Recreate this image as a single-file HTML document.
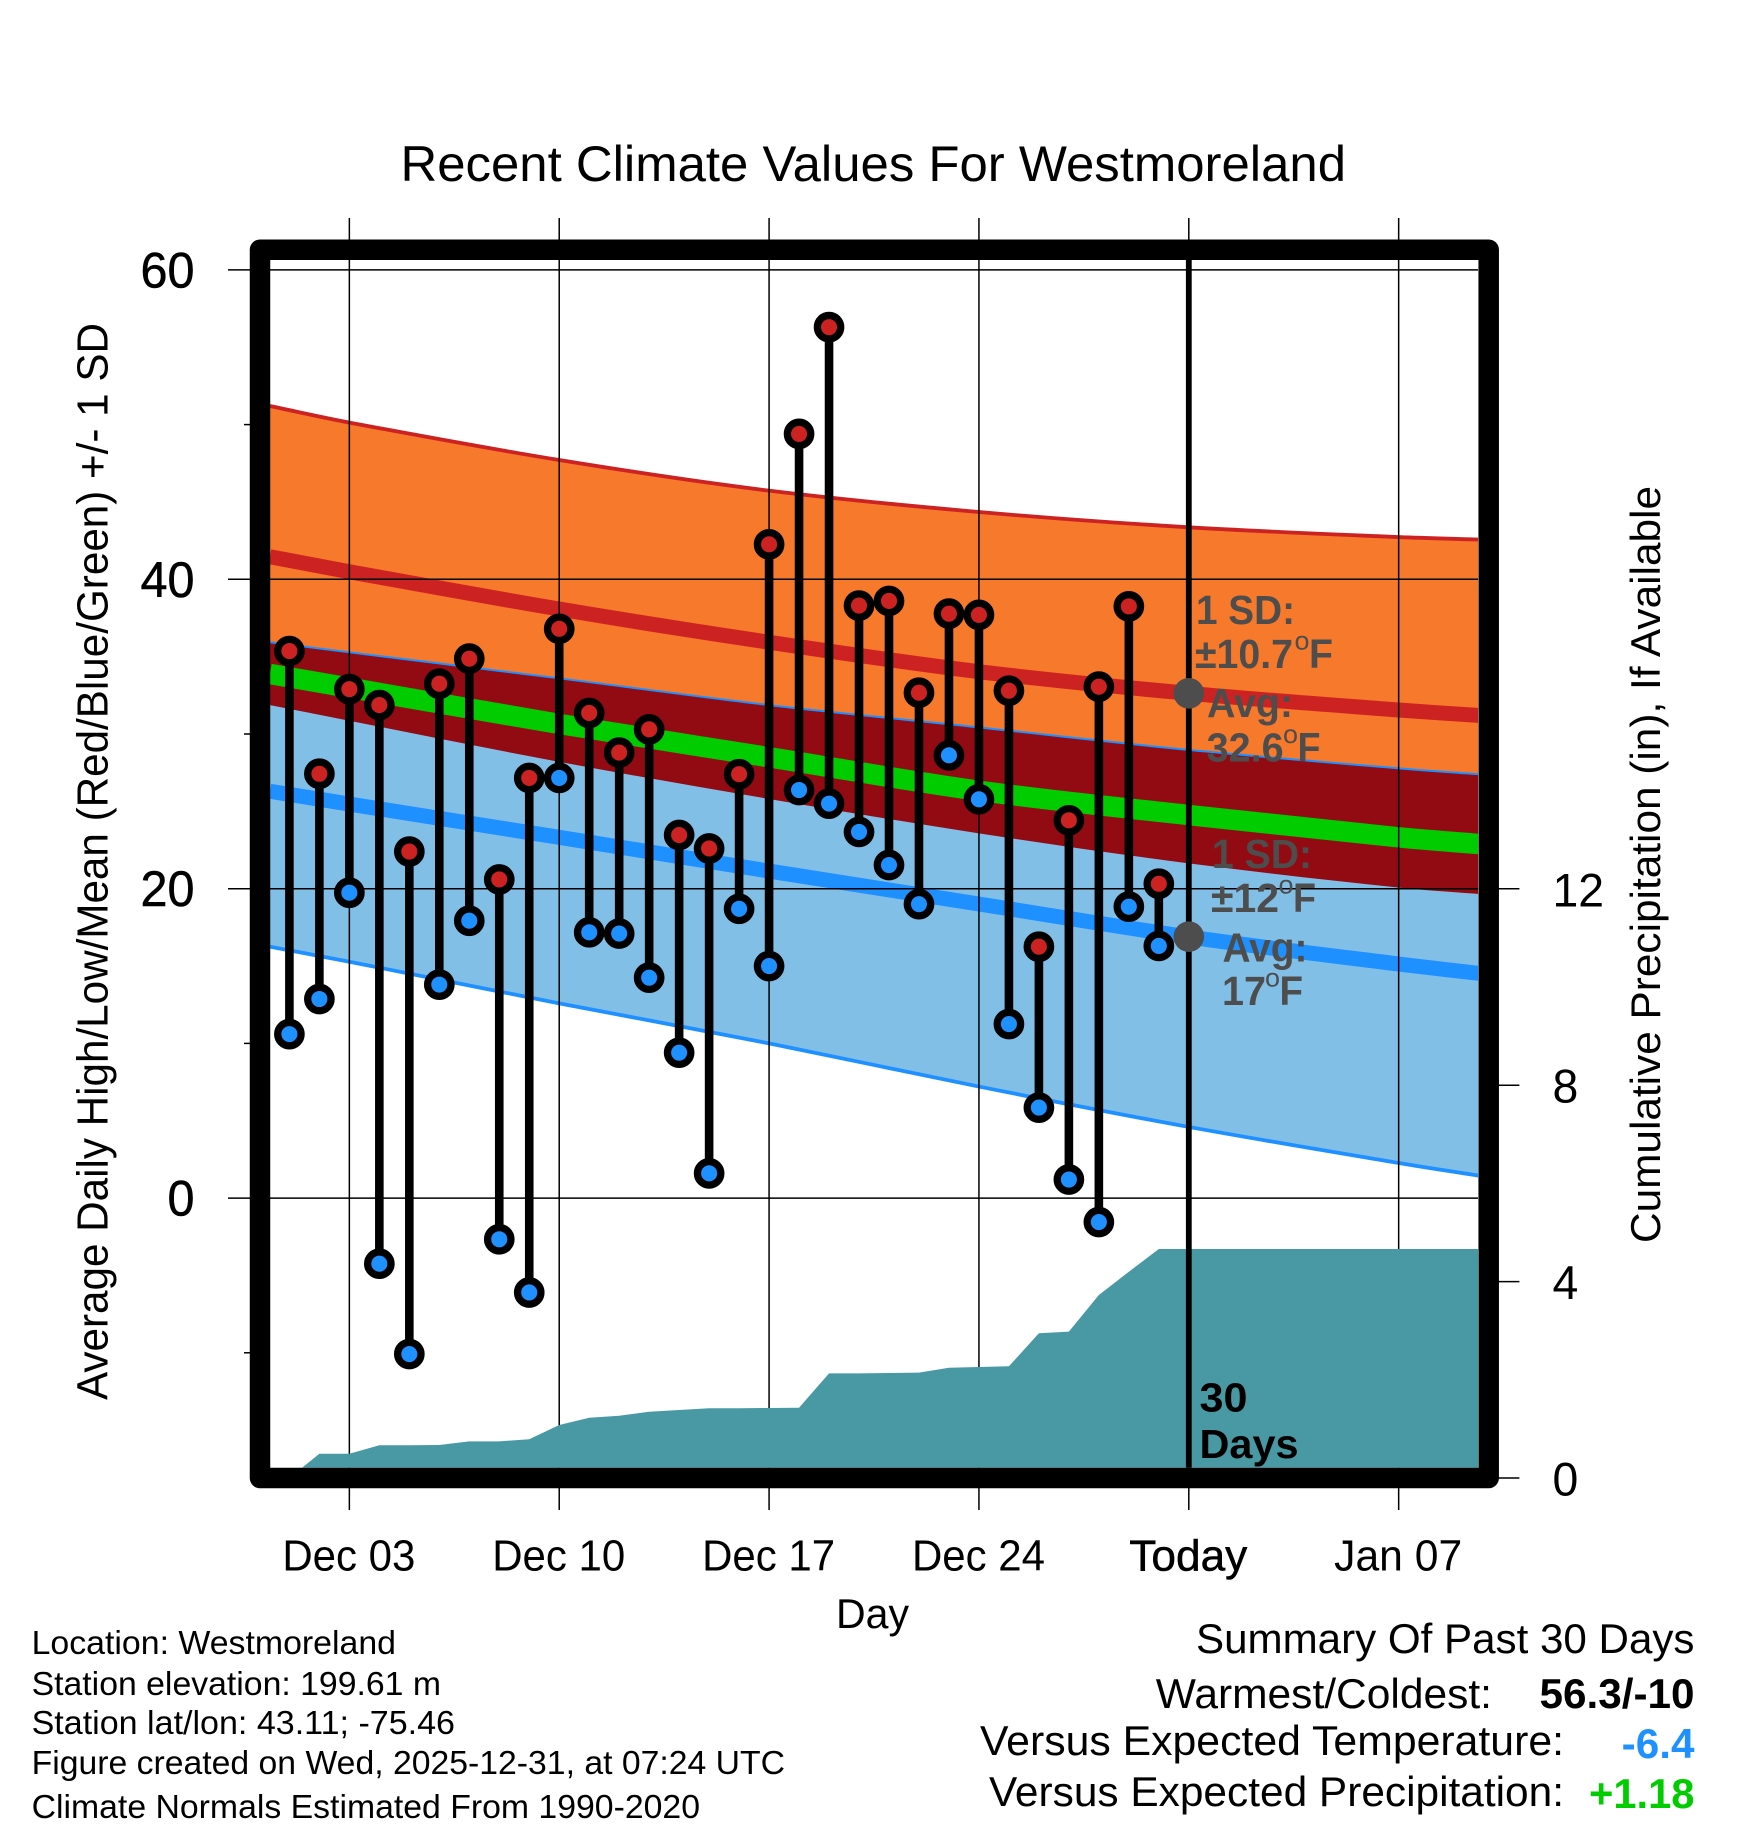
<!DOCTYPE html>
<html>
<head>
<meta charset="utf-8">
<title>Recent Climate Values For Westmoreland</title>
<style>
html,body{margin:0;padding:0;background:#fff;}
svg{display:block;}
text{font-family:"Liberation Sans",Arial,sans-serif;fill:#000;}
.gray{fill:#4d4d4d;font-weight:bold;font-size:41px;}
.note{font-size:33px;}
.sum{font-size:42px;}
.bold{font-weight:bold;}
</style>
</head>
<body>
<svg id="chart" xmlns="http://www.w3.org/2000/svg" width="1748" height="1828" viewBox="0 0 1748 1828">
<defs>
<clipPath id="plot-clip"><rect x="270" y="260" width="1208" height="1207.7"/></clipPath>
</defs>
<rect x="0" y="0" width="1748" height="1828" fill="#fff"/>
<g id="plot" clip-path="url(#plot-clip)"></g>
<g id="axes"></g>
<rect x="260" y="249.7" width="1228.7" height="1228.3" fill="none" stroke="#000" stroke-width="20.5" stroke-linejoin="round"/>

<text x="400.5" y="181" font-size="50" textLength="945.5" lengthAdjust="spacingAndGlyphs">Recent Climate Values For Westmoreland</text>
<text transform="rotate(-90 107.5 1400)" x="107.5" y="1400" font-size="44" textLength="1077" lengthAdjust="spacingAndGlyphs">Average Daily High/Low/Mean (Red/Blue/Green) +/- 1 SD</text>
<text transform="rotate(-90 1660 1243)" x="1660" y="1243" font-size="42" textLength="757" lengthAdjust="spacingAndGlyphs">Cumulative Precipitation (in), If Available</text>
<text x="836" y="1628" font-size="42" textLength="73" lengthAdjust="spacingAndGlyphs">Day</text>

<g>
<text class="gray" x="1196" y="624" textLength="99" lengthAdjust="spacingAndGlyphs">1 SD:</text>
<text class="gray" x="1195" y="668" textLength="98" lengthAdjust="spacingAndGlyphs">±10.7</text>
<text class="gray" x="1294.5" y="649.5" style="font-size:26px;font-weight:normal" textLength="15" lengthAdjust="spacingAndGlyphs">o</text>
<text class="gray" x="1309" y="668" textLength="24" lengthAdjust="spacingAndGlyphs">F</text>
<text class="gray" x="1207" y="717" textLength="86" lengthAdjust="spacingAndGlyphs">Avg:</text>
<text class="gray" x="1206.6" y="761.5" textLength="77" lengthAdjust="spacingAndGlyphs">32.6</text>
<text class="gray" x="1283" y="743" style="font-size:26px;font-weight:normal" textLength="15" lengthAdjust="spacingAndGlyphs">o</text>
<text class="gray" x="1297.5" y="761.5" textLength="23" lengthAdjust="spacingAndGlyphs">F</text>
</g>
<g>
<text class="gray" x="1212" y="868" textLength="100" lengthAdjust="spacingAndGlyphs">1 SD:</text>
<text class="gray" x="1211" y="912" textLength="68" lengthAdjust="spacingAndGlyphs">±12</text>
<text class="gray" x="1278.5" y="893.5" style="font-size:26px;font-weight:normal" textLength="15" lengthAdjust="spacingAndGlyphs">o</text>
<text class="gray" x="1293" y="912" textLength="23" lengthAdjust="spacingAndGlyphs">F</text>
<text class="gray" x="1222.5" y="961.5" textLength="85" lengthAdjust="spacingAndGlyphs">Avg:</text>
<text class="gray" x="1222" y="1005" textLength="44" lengthAdjust="spacingAndGlyphs">17</text>
<text class="gray" x="1265" y="986.5" style="font-size:26px;font-weight:normal" textLength="15" lengthAdjust="spacingAndGlyphs">o</text>
<text class="gray" x="1279.5" y="1005" textLength="23.5" lengthAdjust="spacingAndGlyphs">F</text>
</g>
<text class="bold" x="1199.5" y="1411.5" font-size="41" textLength="48" lengthAdjust="spacingAndGlyphs">30</text>
<text class="bold" x="1199.5" y="1458" font-size="41" textLength="99" lengthAdjust="spacingAndGlyphs">Days</text>

<g>
<text class="note" x="31.6" y="1654" textLength="364.4" lengthAdjust="spacingAndGlyphs">Location: Westmoreland</text>
<text class="note" x="31.6" y="1695" textLength="409.4" lengthAdjust="spacingAndGlyphs">Station elevation: 199.61 m</text>
<text class="note" x="31.6" y="1734" textLength="423.4" lengthAdjust="spacingAndGlyphs">Station lat/lon: 43.11; -75.46</text>
<text class="note" x="31.6" y="1774" textLength="753.4" lengthAdjust="spacingAndGlyphs">Figure created on Wed, 2025-12-31, at 07:24 UTC</text>
<text class="note" x="31.6" y="1818" textLength="668.4" lengthAdjust="spacingAndGlyphs">Climate Normals Estimated From 1990-2020</text>
</g>
<g>
<text class="sum" x="1196" y="1653" textLength="498.5" lengthAdjust="spacingAndGlyphs">Summary Of Past 30 Days</text>
<text class="sum" x="1155.8" y="1708" textLength="336.2" lengthAdjust="spacingAndGlyphs">Warmest/Coldest:</text>
<text class="sum bold" x="1539.5" y="1708" textLength="155" lengthAdjust="spacingAndGlyphs">56.3/-10</text>
<text class="sum" x="980" y="1755" textLength="584" lengthAdjust="spacingAndGlyphs">Versus Expected Temperature:</text>
<text class="sum bold" x="1621.7" y="1758" textLength="72.8" lengthAdjust="spacingAndGlyphs" style="fill:#1e90ff">-6.4</text>
<text class="sum" x="989" y="1806" textLength="575" lengthAdjust="spacingAndGlyphs">Versus Expected Precipitation:</text>
<text class="sum bold" x="1589" y="1808" textLength="105.5" lengthAdjust="spacingAndGlyphs" style="fill:#00cc00">+1.18</text>
</g>
</svg>
<script>
// ---- data ----
const dayLabels = ["Dec 01","Dec 02","Dec 03","Dec 04","Dec 05","Dec 06","Dec 07","Dec 08","Dec 09","Dec 10","Dec 11","Dec 12","Dec 13","Dec 14","Dec 15","Dec 16","Dec 17","Dec 18","Dec 19","Dec 20","Dec 21","Dec 22","Dec 23","Dec 24","Dec 25","Dec 26","Dec 27","Dec 28","Dec 29","Dec 30"];
const dailyHigh = [35.36,27.43,32.9,31.87,22.4,33.25,34.87,20.6,27.16,36.8,31.36,28.8,30.3,23.47,22.6,27.4,42.26,49.4,56.3,38.3,38.6,32.67,37.78,37.7,32.8,16.25,24.42,33.06,38.25,20.32];
const dailyLow = [10.6,12.87,19.74,-4.24,-10.08,13.8,17.93,-2.66,-6.1,27.16,17.18,17.1,14.25,9.4,1.6,18.7,15,26.38,25.5,23.67,21.53,19,28.62,25.78,11.25,5.85,1.2,-1.55,18.84,16.3];
const cumulativePrecip = [0,0.495,0.495,0.666,0.666,0.672,0.747,0.747,0.788,1.079,1.228,1.269,1.35,1.385,1.42,1.42,1.426,1.432,2.132,2.132,2.138,2.145,2.246,2.26,2.275,2.947,2.98,3.727,4.2,4.664];
const precipHoldValue = 4.664;

const normalDays = [-0.65,2,9,16,23,30,37,39.67];
const highPlusSd = [51.2,50.13,47.71,45.73,44.35,43.36,42.73,42.57];
const highMean = [41.46,40.49,38.08,35.93,34.03,32.63,31.55,31.2];
const highMinusSd = [31.87,30.86,28.2,25.8,23.58,21.64,20.07,19.66];
const lowPlusSd = [35.93,35.28,33.6,31.87,30.43,28.97,27.78,27.4];
const overallMean = [33.88,32.99,30.65,28.5,26.33,24.76,23.32,22.89];
const lowMean = [26.3,25.47,23.32,21.14,19.01,16.88,15.13,14.53];
const lowMinusSd = [16.25,15.28,12.59,10,7.21,4.6,2.27,1.45];

const yTicks = [60,40,20,0];
const yMinorTicks = [50,30,10,-10];
const xTickDays = [2,9,16,23,30,37];
const xTickLabels = ["Dec 03","Dec 10","Dec 17","Dec 24","Today","Jan 07"];
const precipTicks = [0,4,8,12];
const todayDay = 30;
const todayHigh = 32.63;
const todayLow = 16.9;
const lastDay = 39.67;

// ---- axis functions ----
function xScale(d){ return 289.4 + 29.98 * d; }
function yScale(v){ return 888.7 - (v - 20) * 15.47; }
function pScale(p){ return 1478 - p * 49.1; }

const NS = "http://www.w3.org/2000/svg";
const plot = document.getElementById("plot");
const axes = document.getElementById("axes");
function make(tag, parent, attrs){
  const el = document.createElementNS(NS, tag);
  for (const k in attrs) el.setAttribute(k, attrs[k]);
  parent.appendChild(el);
  return el;
}
// smooth path through normal samples (Catmull-Rom to Bezier)
function smooth(vals, reverse){
  let pts = normalDays.map((d,i)=>[xScale(d), yScale(vals[i])]);
  if (reverse) pts = pts.slice().reverse();
  let s = "";
  for (let i=0;i<pts.length-1;i++){
    const p0=pts[Math.max(i-1,0)], p1=pts[i], p2=pts[i+1], p3=pts[Math.min(i+2,pts.length-1)];
    const k=(p2[0]-p1[0])/3;
    const m1=(p2[1]-p0[1])/(p2[0]-p0[0]);
    const m2=(p3[1]-p1[1])/(p3[0]-p1[0]);
    s+=" C"+(p1[0]+k).toFixed(2)+" "+(p1[1]+m1*k).toFixed(2)+" "+(p2[0]-k).toFixed(2)+" "+(p2[1]-m2*k).toFixed(2)+" "+p2[0].toFixed(2)+" "+p2[1].toFixed(2);
  }
  return {start:pts[0], seg:s};
}
function linePath(vals){ const a=smooth(vals,false); return "M"+a.start[0].toFixed(2)+" "+a.start[1].toFixed(2)+a.seg; }
function bandPath(upper,lower){
  const a=smooth(upper,false), b=smooth(lower,true);
  return "M"+a.start[0].toFixed(2)+" "+a.start[1].toFixed(2)+a.seg+" L"+b.start[0].toFixed(2)+" "+b.start[1].toFixed(2)+b.seg+" Z";
}

// ---- bands ----
const highBand = make("path", plot, {d:bandPath(highPlusSd,highMinusSd), fill:"#f7792b"});


const lowBand = make("path", plot, {d:bandPath(lowPlusSd,lowMinusSd), fill:"#82bfe7"});


const overlapBand = make("path", plot, {d:bandPath(lowPlusSd,highMinusSd), fill:"#920b12"});



const highTopLine = make("path", plot, {d:linePath(highPlusSd), fill:"none", stroke:"#cd2222", "stroke-width":3.8});


const lowTopLine = make("path", plot, {d:linePath(lowPlusSd), fill:"none", stroke:"#1e90ff", "stroke-width":2});


const lowBottomLine = make("path", plot, {d:linePath(lowMinusSd), fill:"none", stroke:"#1e90ff", "stroke-width":3.8});


const highMeanLine = make("path", plot, {d:linePath(highMean), fill:"none", stroke:"#cd2222", "stroke-width":15});


const lowMeanLine = make("path", plot, {d:linePath(lowMean), fill:"none", stroke:"#1e90ff", "stroke-width":15});


const meanLine = make("path", plot, {d:linePath(overallMean), fill:"none", stroke:"#00cc00", "stroke-width":20.5});



// ---- grid and ticks ----
yTicks.forEach(function(v){
  const grid = make("line", plot, {x1:270,x2:1478,y1:yScale(v),y2:yScale(v),stroke:"#000","stroke-width":1.5});
  
  
  const tick = make("line", axes, {x1:228,x2:252,y1:yScale(v),y2:yScale(v),stroke:"#000","stroke-width":1.5});
  
  
  const lab = make("text", axes, {x:194.5,y:yScale(v)+17.5,"font-size":50,"text-anchor":"end",stroke:"#000","stroke-width":0.5,textLength:String(v).length*27,lengthAdjust:"spacingAndGlyphs"});
  
  
  lab.textContent = v;
});
yMinorTicks.forEach(function(v){
  const tick = make("line", axes, {x1:244,x2:252,y1:yScale(v),y2:yScale(v),stroke:"#000","stroke-width":1.5});
  
  
});
xTickDays.forEach(function(d,i){
  const grid = make("line", plot, {x1:xScale(d),x2:xScale(d),y1:260,y2:1468,stroke:"#000","stroke-width":1.5});
  
  
  const top = make("line", axes, {x1:xScale(d),x2:xScale(d),y1:218,y2:245,stroke:"#000","stroke-width":1.5});
  
  
  const bottom = make("line", axes, {x1:xScale(d),x2:xScale(d),y1:1482,y2:1510,stroke:"#000","stroke-width":1.5});
  
  
  const isToday = xTickLabels[i] === "Today";
  const isJan = xTickLabels[i] === "Jan 07";
  const lab = make("text", axes, {x:xScale(d)-0.5,y:1570.7,"font-size":44,"text-anchor":"middle",textLength:isToday?118:(isJan?128:133),lengthAdjust:"spacingAndGlyphs"});
  if (isToday) { lab.setAttribute("stroke","#000"); lab.setAttribute("stroke-width","0.5"); }
  
  
  lab.textContent = xTickLabels[i];
});
precipTicks.forEach(function(p){
  const tick = make("line", axes, {x1:1495,x2:1519.4,y1:pScale(p),y2:pScale(p),stroke:"#000","stroke-width":1.5});
  
  
  const lab = make("text", axes, {x:1552.5,y:pScale(p)+17.5,"font-size":47,textLength:String(p).length*25.8,lengthAdjust:"spacingAndGlyphs"});
  
  
  lab.textContent = p;
});

// ---- precipitation area ----
let precipD = "M"+xScale(0)+" "+pScale(0);
cumulativePrecip.forEach(function(p,i){ precipD += " L"+xScale(i).toFixed(2)+" "+pScale(p).toFixed(2); });
precipD += " L"+xScale(lastDay).toFixed(2)+" "+pScale(precipHoldValue).toFixed(2)+" L"+xScale(lastDay).toFixed(2)+" "+pScale(0)+" Z";
const precipArea = make("path", plot, {d:precipD, fill:"#4899a3"});



// ---- today line ----
const todayLine = make("line", plot, {x1:xScale(todayDay),x2:xScale(todayDay),y1:260,y2:1468,stroke:"#000","stroke-width":5.8});



// ---- daily high/low stems and markers ----
dailyHigh.forEach(function(h,i){
  const stem = make("line", plot, {x1:xScale(i),x2:xScale(i),y1:yScale(h),y2:yScale(dailyLow[i]),stroke:"#000","stroke-width":8.6});
  
  
});
dailyHigh.forEach(function(h,i){
  const lo = make("circle", plot, {cx:xScale(i),cy:yScale(dailyLow[i]),r:11.7,fill:"#1e90ff",stroke:"#000","stroke-width":7.3});
  
  
  const hi = make("circle", plot, {cx:xScale(i),cy:yScale(h),r:11.7,fill:"#cd2222",stroke:"#000","stroke-width":7.3});
  
  
});

// ---- today normal dots ----
const highDot = make("circle", plot, {cx:xScale(todayDay),cy:yScale(todayHigh),r:15.3,fill:"#4d4d4d"});


const lowDot = make("circle", plot, {cx:xScale(todayDay),cy:yScale(todayLow),r:15.3,fill:"#4d4d4d"});


</script>
</body>
</html>
